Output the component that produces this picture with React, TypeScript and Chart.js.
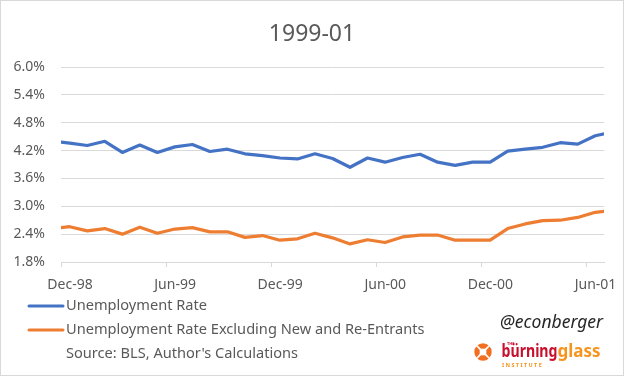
import { useEffect, useRef } from 'react';
import { Chart, registerables } from 'chart.js';

Chart.register(...registerables);

const months = [
  'Nov-98', 'Dec-98', 'Jan-99', 'Feb-99', 'Mar-99', 'Apr-99', 'May-99', 'Jun-99', 'Jul-99', 'Aug-99', 'Sep-99',
  'Oct-99', 'Nov-99', 'Dec-99', 'Jan-00', 'Feb-00', 'Mar-00', 'Apr-00', 'May-00', 'Jun-00', 'Jul-00', 'Aug-00',
  'Sep-00', 'Oct-00', 'Nov-00', 'Dec-00', 'Jan-01', 'Feb-01', 'Mar-01', 'Apr-01', 'May-01', 'Jun-01', 'Jul-01',
];

const unemploymentRate = [
  4.40, 4.36, 4.31, 4.40, 4.16, 4.32, 4.16, 4.28, 4.33, 4.18, 4.23,
  4.13, 4.09, 4.04, 4.02, 4.13, 4.03, 3.84, 4.04, 3.95, 4.05, 4.12,
  3.95, 3.88, 3.95, 3.95, 4.19, 4.23, 4.27, 4.37, 4.34, 4.52, 4.60,
];

const excludingNewReEntrants = [
  2.52, 2.56, 2.47, 2.52, 2.40, 2.55, 2.42, 2.51, 2.54, 2.45, 2.45,
  2.33, 2.37, 2.27, 2.30, 2.42, 2.32, 2.19, 2.28, 2.22, 2.34, 2.38,
  2.38, 2.27, 2.27, 2.27, 2.52, 2.62, 2.69, 2.70, 2.76, 2.87, 2.91,
];

const seriesLabels = ['Unemployment Rate', 'Unemployment Rate Excluding New and Re-Entrants'];
const seriesColors = ['#4472C4', '#ED7D31'];
const tickLabels = ['Dec-98', 'Jun-99', 'Dec-99', 'Jun-00', 'Dec-00', 'Jun-01'];
const axisStart = 'Dec-98';
const axisEnd = 'Jul-01';
const yTicks = { min: 1.8, max: 6.0, step: 0.6 };
const titleText = '1999-01';
const sourceText = "Source: BLS, Author's Calculations";
const handleText = '@econberger';

const FONT = "'Noto Sans', 'Open Sans', sans-serif";

export default function App() {
  const ref = useRef<HTMLCanvasElement | null>(null);

  useEffect(() => {
    const canvas = ref.current;
    if (!canvas) return;
    const base = months.indexOf(axisStart);
    const toPoints = (vals: number[]) => vals.map((v, i) => ({ x: i - base + 0.5, y: v }));

    const overlay = {
      id: 'overlay',
      afterDraw(chart: any) {
        const ctx = chart.ctx as CanvasRenderingContext2D;
        ctx.save();
        // frame
        ctx.strokeStyle = '#d9d9d9';
        ctx.lineWidth = 1;
        ctx.strokeRect(0.5, 0.5, chart.width - 1, chart.height - 1);

        // title
        ctx.fillStyle = '#595959';
        ctx.font = `23px ${FONT}`;
        ctx.textAlign = 'center';
        ctx.textBaseline = 'middle';
        ctx.fillText(titleText, chart.width / 2, 34);

        // legend
        const rows = [306, 330];
        chart.data.datasets.forEach((ds: any, i: number) => {
          const y = rows[i];
          ctx.strokeStyle = ds.borderColor;
          ctx.lineWidth = 3;
          ctx.lineCap = 'round';
          ctx.beginPath();
          ctx.moveTo(29, y);
          ctx.lineTo(63, y);
          ctx.stroke();
          ctx.fillStyle = '#595959';
          ctx.font = `14.6px ${FONT}`;
          ctx.textBaseline = 'middle';
          ctx.textAlign = 'left';
          ctx.fillText(ds.label, 66, y);
        });
        ctx.fillStyle = '#595959';
        ctx.font = `14.6px ${FONT}`;
        ctx.textBaseline = 'middle';
        ctx.textAlign = 'left';
        ctx.fillText(sourceText, 66, 354);

        // handle
        ctx.fillStyle = '#262626';
        ctx.font = `italic 17.5px ${FONT}`;
        ctx.textAlign = 'right';
        ctx.fillText(handleText, 603, 323);

        // logo icon
        const cx = 483, cy = 352, r = 8.7;
        ctx.fillStyle = '#F26F21';
        ctx.beginPath();
        ctx.arc(cx, cy, r, 0, Math.PI * 2);
        ctx.fill();
        ctx.strokeStyle = '#ffffff';
        ctx.lineWidth = 1.6;
        ctx.lineCap = 'butt';
        for (let k = 0; k < 4; k++) {
          const a = Math.PI / 4 + (k * Math.PI) / 2;
          ctx.beginPath();
          ctx.moveTo(cx + Math.cos(a) * 3, cy + Math.sin(a) * 3);
          ctx.lineTo(cx + Math.cos(a) * (r + 1), cy + Math.sin(a) * (r + 1));
          ctx.stroke();
        }
        ctx.fillStyle = '#ffffff';
        ctx.fillRect(cx - 3.3, cy - 3.3, 6.6, 6.6);

        // logo text
        ctx.textAlign = 'left';
        ctx.textBaseline = 'alphabetic';
        ctx.font = `bold 17px ${FONT}`;
        ctx.fillStyle = '#C8102E';
        ctx.fillText('bürning', 501.5, 357, 56);
        ctx.fillStyle = '#F7941D';
        ctx.fillText('glass', 557.5, 357, 46);
        ctx.font = `bold 4px ${FONT}`;
        ctx.fillStyle = '#C8102E';
        ctx.fillText('THE', 507, 345);
        ctx.font = `bold 5.5px ${FONT}`;
        ctx.fillStyle = '#F7941D';
        (ctx as any).letterSpacing = '1.4px';
        ctx.fillText('INSTITUTE', 502, 366.5);
        (ctx as any).letterSpacing = '0px';
        ctx.restore();
      },
    };

    const chart = new Chart(canvas, {
      type: 'line',
      data: {
        datasets: [
          {
            label: seriesLabels[0],
            data: toPoints(unemploymentRate),
            borderColor: seriesColors[0],
            backgroundColor: seriesColors[0],
            borderWidth: 3.2,
            pointRadius: 0,
            tension: 0,
            borderJoinStyle: 'round',
            borderCapStyle: 'round',
          },
          {
            label: seriesLabels[1],
            data: toPoints(excludingNewReEntrants),
            borderColor: seriesColors[1],
            backgroundColor: seriesColors[1],
            borderWidth: 3.2,
            pointRadius: 0,
            tension: 0,
            borderJoinStyle: 'round',
            borderCapStyle: 'round',
          },
        ],
      },
      options: {
        animation: false,
        responsive: false,
        devicePixelRatio: 1,
        layout: { padding: { left: 0, right: 20, top: 67, bottom: 84 } },
        plugins: {
          legend: { display: false },
          tooltip: { enabled: false },
          title: { display: false },
        },
        scales: {
          x: {
            type: 'linear',
            min: 0,
            max: months.indexOf(axisEnd) - base,
            afterFit: (scale: any) => {
              scale.height = 30;
            },
            afterBuildTicks: (scale: any) => {
              scale.ticks = tickLabels.map((l) => ({ value: months.indexOf(l) - base }));
            },
            ticks: {
              autoSkip: false,
              maxRotation: 0,
              padding: 10,
              labelOffset: 9,
              color: '#595959',
              font: { family: FONT, size: 14 },
              callback: (v: any) => months[Number(v) + base],
            },
            grid: {
              drawOnChartArea: false,
              drawTicks: true,
              tickLength: 5,
              color: '#d9d9d9',
            },
            border: { display: true, color: '#d9d9d9' },
          },
          y: {
            min: yTicks.min,
            max: yTicks.max,
            afterFit: (scale: any) => {
              scale.width = 61;
            },
            ticks: {
              stepSize: yTicks.step,
              padding: 16,
              color: '#595959',
              font: { family: FONT, size: 14 },
              callback: (v: any) => `${Number(v).toFixed(1)}%`,
            },
            grid: { color: '#d9d9d9', drawTicks: false },
            border: { display: false },
          },
        },
      },
      plugins: [overlay],
    } as any);

    return () => chart.destroy();
  }, []);

  return (
    <div style={{ position: 'absolute', left: 0, top: 0, width: 624, height: 376, background: '#fff' }}>
      <canvas ref={ref} width={624} height={376} style={{ display: 'block' }} />
    </div>
  );
}
